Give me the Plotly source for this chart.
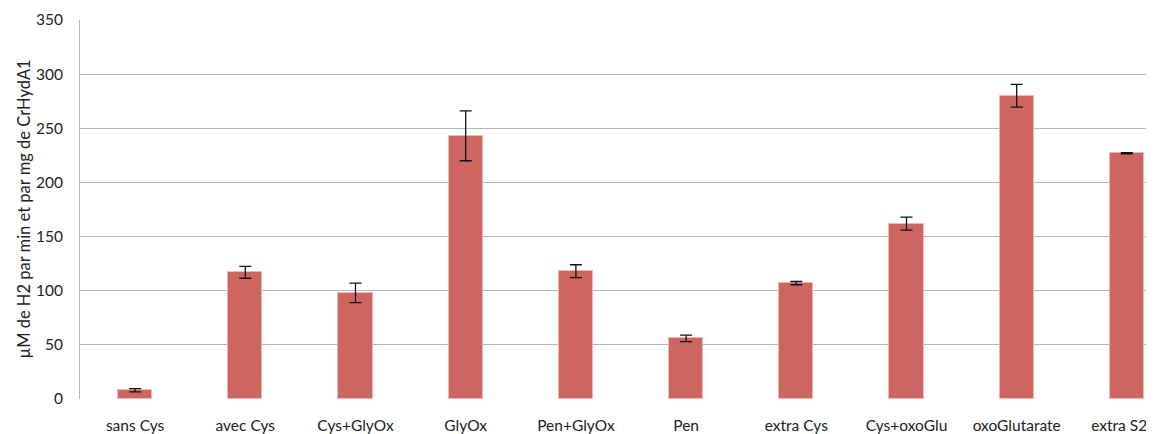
import plotly.graph_objects as go

categories = ["sans Cys", "avec Cys", "Cys+GlyOx", "GlyOx", "Pen+GlyOx", "Pen",
              "extra Cys", "Cys+oxoGlu", "oxoGlutarate", "extra S2"]
values = [8, 117, 98, 243, 118, 56, 107, 162, 280, 227]
errors = [1.5, 5.5, 9, 23, 6, 3, 1.5, 6, 10.5, 0.5]
y_ticks = [0, 50, 100, 150, 200, 250, 300, 350]
y_title = "µM de H2 par min et par mg de CrHydA1"

positions = list(range(len(categories)))
# label positions: last label nudged left so it stays inside the page
label_positions = positions[:-1] + [positions[-1] - 0.07]

fig = go.Figure()
fig.add_trace(go.Bar(
    x=positions,
    y=values,
    width=0.31,
    marker=dict(color="#CD6660", line=dict(color="#F0B8B4", width=1)),
    error_y=dict(type="data", array=errors, visible=True, color="#111111",
                 thickness=1.3, width=6),
))

fig.update_layout(
    width=1146, height=426,
    margin=dict(l=72, r=0, t=12, b=32),
    paper_bgcolor="white", plot_bgcolor="white",
    font=dict(family="Lato, Noto Sans, sans-serif", size=15, color="#222222"),
    showlegend=False,
    bargap=0,
)
fig.add_annotation(
    text=y_title, textangle=-90, xref="paper", yref="paper",
    x=-0.053, y=0.5, xanchor="center", yanchor="middle",
    showarrow=False, font=dict(size=16.5, color="#222222"),
)
fig.update_xaxes(
    tickmode="array", tickvals=label_positions, ticktext=categories,
    range=[-0.5, 9.246], showgrid=False, zeroline=False,
    showline=False, ticks="outside", ticklen=12, tickcolor="rgba(0,0,0,0)",
    tickfont=dict(size=15.5),
)
fig.update_yaxes(
    range=[0, 350], tickvals=y_ticks, showgrid=True, gridcolor="#B5B5B5",
    gridwidth=1, zeroline=False, showline=True, linecolor="#B5B5B5", linewidth=1,
    ticks="outside", ticklen=13, tickcolor="rgba(0,0,0,0)",
    tickfont=dict(size=15.5),
)
fig.write_html("out.html")
